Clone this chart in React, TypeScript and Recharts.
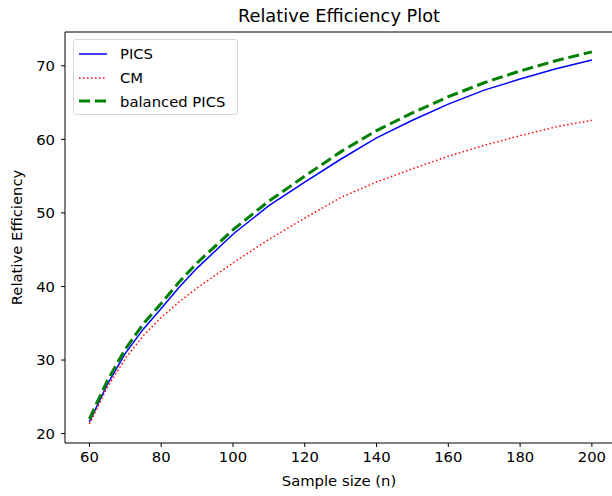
import { LineChart, Line, XAxis, YAxis, ReferenceLine } from "recharts";

const sampleSizes = [60, 65, 70, 75, 80, 85, 90, 100, 110, 120, 130, 140, 150, 160, 170, 180, 190, 200];
const pics = [21.6, 26.7, 30.9, 34.2, 37.0, 39.9, 42.5, 47.1, 51.0, 54.2, 57.3, 60.2, 62.6, 64.8, 66.7, 68.2, 69.6, 70.8];
const cm = [21.3, 26.3, 30.2, 33.3, 35.8, 37.9, 39.8, 43.2, 46.4, 49.3, 52.1, 54.2, 56.0, 57.7, 59.2, 60.5, 61.7, 62.6];
const balancedPics = [22.0, 27.2, 31.5, 34.9, 37.7, 40.6, 43.2, 47.7, 51.6, 55.0, 58.3, 61.2, 63.6, 65.8, 67.7, 69.3, 70.7, 71.9];

const xTicks = [60, 80, 100, 120, 140, 160, 180, 200];
const yTicks = [20, 30, 40, 50, 60, 70];

const data = sampleSizes.map((n, i) => ({
  n,
  pics: pics[i],
  cm: cm[i],
  balanced: balancedPics[i],
}));

const FONT = "'DejaVu Sans', sans-serif";
const FS = 14.8;
const Y_MAX = 74.6;

const legendItems = [
  { label: "PICS", color: "#0000ff", width: 1.5, dash: undefined },
  { label: "CM", color: "#ff0000", width: 1.5, dash: "1.5 2.5" },
  { label: "balanced PICS", color: "#008000", width: 3, dash: "11.1 4.8" },
];

// eslint-disable-next-line @typescript-eslint/no-explicit-any
const yLabel = (props: any) => {
  const { viewBox } = props;
  const cx = 18;
  const cy = viewBox.y + viewBox.height / 2;
  return (
    <text
      x={cx}
      y={cy}
      transform={`rotate(-90, ${cx}, ${cy})`}
      textAnchor="middle"
      dominantBaseline="middle"
      fontFamily={FONT}
      fontSize={FS}
      fill="#000"
    >
      Relative Efficiency
    </text>
  );
};

// eslint-disable-next-line @typescript-eslint/no-explicit-any
const xLabel = (props: any) => {
  const { viewBox } = props;
  return (
    <text
      x={339}
      y={viewBox.y + 39}
      textAnchor="middle"
      dominantBaseline="middle"
      fontFamily={FONT}
      fontSize={FS}
      fill="#000"
    >
      Sample size (n)
    </text>
  );
};

export default function App() {
  return (
    <div
      style={{
        position: "absolute",
        left: 0,
        top: 0,
        width: 612,
        height: 496,
        overflow: "hidden",
        background: "#fff",
      }}
    >
      <div
        style={{
          position: "absolute",
          left: 0,
          width: 678,
          top: 5,
          textAlign: "center",
          fontFamily: FONT,
          fontSize: 17.8,
          lineHeight: "22px",
          color: "#000",
        }}
      >
        Relative Efficiency Plot
      </div>

      <LineChart
        width={630}
        height={496}
        data={data}
        margin={{ top: 32, right: 13, bottom: 0, left: 0 }}
      >
        <XAxis
          dataKey="n"
          type="number"
          domain={[53.2, 207]}
          ticks={xTicks}
          allowDataOverflow
          height={53}
          tickSize={4}
          tickMargin={4}
          stroke="#000"
          tick={{ fill: "#000", fontFamily: FONT, fontSize: FS }}
          label={{ content: xLabel }}
        />
        <YAxis
          type="number"
          domain={[18.72, Y_MAX]}
          ticks={yTicks}
          allowDataOverflow
          width={65}
          tickSize={4}
          tickMargin={6}
          stroke="#000"
          tick={{ fill: "#000", fontFamily: FONT, fontSize: FS }}
          label={{ content: yLabel }}
        />
        <ReferenceLine y={Y_MAX} stroke="#000" strokeWidth={1} ifOverflow="visible" />
        <Line
          type="linear"
          dataKey="pics"
          stroke="#0000ff"
          strokeWidth={1.5}
          dot={false}
          activeDot={false}
          isAnimationActive={false}
        />
        <Line
          type="linear"
          dataKey="cm"
          stroke="#ff0000"
          strokeWidth={1.5}
          strokeDasharray="1.5 2.5"
          dot={false}
          activeDot={false}
          isAnimationActive={false}
        />
        <Line
          type="linear"
          dataKey="balanced"
          stroke="#008000"
          strokeWidth={3}
          strokeDasharray="11.1 4.8"
          dot={false}
          activeDot={false}
          isAnimationActive={false}
        />
      </LineChart>

      <div
        style={{
          position: "absolute",
          left: 73,
          top: 39,
          width: 163,
          height: 72,
          border: "1px solid #d6d6d6",
          borderRadius: 3,
          background: "rgba(255,255,255,0.8)",
          fontFamily: FONT,
          fontSize: FS,
          color: "#000",
          paddingTop: 2,
          boxSizing: "content-box",
        }}
      >
        {legendItems.map((item) => (
          <div
            key={item.label}
            style={{ display: "flex", alignItems: "center", height: 23.7 }}
          >
            <svg width={46} height={10} style={{ flex: "none" }}>
              <line
                x1={5}
                y1={5}
                x2={33}
                y2={5}
                stroke={item.color}
                strokeWidth={item.width}
                strokeDasharray={item.dash}
              />
            </svg>
            <span>{item.label}</span>
          </div>
        ))}
      </div>
    </div>
  );
}
